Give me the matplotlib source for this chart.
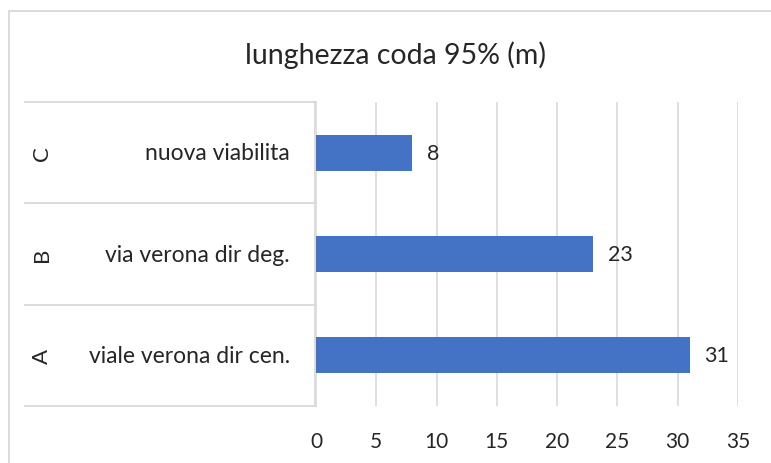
import numpy as np
import matplotlib.pyplot as plt
from matplotlib.patches import Rectangle
from matplotlib.lines import Line2D

plt.rcParams['font.family'] = ['Lato', 'DejaVu Sans']

outer = ['A', 'B', 'C']
inner = ['viale verona dir cen.', 'via verona dir deg.', 'nuova viabilita']
values = [31, 23, 8]
ticks = [0, 5, 10, 15, 20, 25, 30, 35]

W, H = 771, 464
txt = '#262626'
grid = '#d9d9d9'
blue = '#4472C4'

fig = plt.figure(figsize=(W / 100, H / 100), dpi=100)

# chart border (cut by the image edge on right and bottom)
fig.patches.append(Rectangle((9 / W, -0.1), 1.2, 1 - 12 / H + 0.1, transform=fig.transFigure,
                             fill=False, edgecolor=grid, lw=1.3))

x0, x1 = 316, 738
y0, y1 = 103, 407
ax = fig.add_axes([x0 / W, 1 - y1 / H, (x1 - x0) / W, (y1 - y0) / H])

y = np.arange(len(values))
ax.barh(y, values, height=0.356, color=blue, zorder=3)
ax.set_xlim(0, 35)
ax.set_ylim(-0.5, 2.5)
ax.set_xticks(ticks)
ax.set_xticklabels([str(t) for t in ticks])
ax.set_yticks([])
ax.grid(axis='x', color=grid, lw=1.2, zorder=0)
for s in ax.spines.values():
    s.set_visible(False)
ax.tick_params(axis='x', length=0, pad=18, labelsize=15, labelcolor=txt)

for yi, v in zip(y, values):
    ax.text(v + 1.2, yi, str(v), va='center', ha='left', fontsize=15.5, color=txt)

# two-level category table on the left
tr = ax.get_yaxis_transform()
xl = (25 - x0) / (x1 - x0)
for b in [-0.5, 0.5, 1.5, 2.5]:
    ax.add_line(Line2D([xl, 0], [b, b], transform=tr, color=grid, lw=1.3, clip_on=False))
ax.add_line(Line2D([-0.002, -0.002], [-0.5, 2.5], transform=tr, color=grid, lw=1.3, clip_on=False))
for yi, lab, o in zip(y, inner, outer):
    ax.text((290 - x0) / (x1 - x0), yi, lab, transform=tr, ha='right', va='center',
            fontsize=16.5, color=txt)
    ax.text((42 - x0) / (x1 - x0), yi, o, transform=tr, ha='center', va='center',
            fontsize=16, color=txt, rotation=90)

fig.text(396 / W, 1 - 55 / H, 'lunghezza coda 95% (m)', ha='center', va='center',
         fontsize=20.5, color=txt)

fig.savefig('out.png', dpi=100)
